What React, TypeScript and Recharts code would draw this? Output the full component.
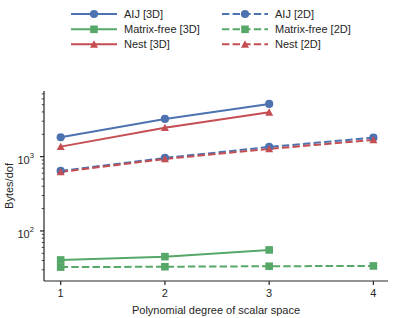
import React from 'react';
import { LineChart, Line, XAxis, YAxis } from 'recharts';

const degrees = [1, 2, 3, 4];
const aij3d = [1824, 3216, 5120];
const matrixFree3d = [40.7, 45.1, 55.5];
const nest3d = [1364, 2456, 3957];
const aij2d = [642, 961, 1350, 1803];
const matrixFree2d = [32.6, 33.0, 33.5, 33.8];
const nest2d = [622, 931, 1270, 1680];

const yMajorTicks = [100, 1000];
const yMinorTicks = [30, 40, 50, 60, 70, 80, 90, 200, 300, 400, 500, 600, 700, 800, 900, 2000, 3000, 4000, 5000, 6000, 7000];
const xTicks = [1, 2, 3, 4];

const BLUE = '#4C72B0';
const GREEN = '#55A868';
const RED = '#C44E52';
const INK = '#262626';
const FONT = '"Liberation Sans", Arial, Helvetica, sans-serif';

type Marker = 'circle' | 'square' | 'triangle';

const series = [
  { name: 'AIJ [3D]', values: aij3d, color: BLUE, marker: 'circle' as Marker, dashed: false },
  { name: 'Matrix-free [3D]', values: matrixFree3d, color: GREEN, marker: 'square' as Marker, dashed: false },
  { name: 'Nest [3D]', values: nest3d, color: RED, marker: 'triangle' as Marker, dashed: false },
  { name: 'AIJ [2D]', values: aij2d, color: BLUE, marker: 'circle' as Marker, dashed: true },
  { name: 'Matrix-free [2D]', values: matrixFree2d, color: GREEN, marker: 'square' as Marker, dashed: true },
  { name: 'Nest [2D]', values: nest2d, color: RED, marker: 'triangle' as Marker, dashed: true },
];

const DASH = '7.4 3.2';

function markerShape(marker: Marker, cx: number, cy: number, color: string, key?: string) {
  if (marker === 'circle') return <circle key={key} cx={cx} cy={cy} r={4.1} fill={color} />;
  if (marker === 'square') return <rect key={key} x={cx - 3.8} y={cy - 3.8} width={7.6} height={7.6} fill={color} />;
  const s = 4.0;
  return <polygon key={key} points={`${cx},${cy - s} ${cx + s},${cy + s * 0.85} ${cx - s},${cy + s * 0.85}`} fill={color} />;
}

const makeDot = (marker: Marker, color: string) => (p: any) => {
  const k = `dot-${p.index}`;
  if (p.cx == null || p.cy == null || isNaN(p.cx) || isNaN(p.cy)) return <g key={k} />;
  return markerShape(marker, p.cx, p.cy, color, k);
};

const YTick = (props: any) => {
  const { x, y, payload } = props;
  const major = yMajorTicks.includes(payload.value);
  if (!major) {
    return <line x1={x} x2={x - 2.2} y1={y} y2={y} stroke={INK} strokeWidth={0.9} />;
  }
  const exp = Math.round(Math.log10(payload.value));
  return (
    <g>
      <line x1={x} x2={x - 4} y1={y} y2={y} stroke={INK} strokeWidth={1.2} />
      <text x={x - 10} y={y + 7} textAnchor="end" fontSize={11} fill={INK} fontFamily={FONT}>
        10
        <tspan fontSize={7.7} dy={-5.5}>{exp}</tspan>
      </text>
    </g>
  );
};

const Legend = () => {
  const cols = [71, 222];
  const rowY = [14, 29.3, 44.3];
  return (
    <svg width={398} height={60} style={{ position: 'absolute', left: 0, top: 0, pointerEvents: 'none' }}>
      {series.map((s, i) => {
        const col = cols[s.dashed ? 1 : 0];
        const y = rowY[i % 3];
        return (
          <g key={s.name}>
            <line x1={col} x2={col + 46} y1={y} y2={y} stroke={s.color} strokeWidth={2} strokeDasharray={s.dashed ? DASH : undefined} />
            {markerShape(s.marker, col + 23, y, s.color)}
            <text x={col + 53} y={y + 4} fontSize={11} fill={INK} fontFamily={FONT}>{s.name}</text>
          </g>
        );
      })}
    </svg>
  );
};

export default function App() {
  return (
    <div style={{ position: 'fixed', left: 0, top: 0, width: 398, height: 318, background: '#fff' }}>
      <LineChart width={398} height={318} margin={{ top: 91, right: 10, bottom: 1, left: 4 }}>
        <XAxis
          type="number"
          dataKey="x"
          domain={[0.84, 4.14]}
          ticks={xTicks}
          allowDataOverflow
          stroke={INK}
          strokeWidth={1.2}
          tickSize={4}
          tickMargin={4}
          height={36}
          tick={{ fill: INK, fontSize: 11, fontFamily: FONT }}
          label={{
            content: () => (
              <text x={216} y={314} textAnchor="middle" fontSize={11} fill={INK} fontFamily={FONT}>
                Polynomial degree of scalar space
              </text>
            ),
          }}
        />
        <YAxis
          type="number"
          scale="log"
          domain={[21.2, 7650]}
          allowDataOverflow
          ticks={[...yMinorTicks, ...yMajorTicks].sort((a, b) => a - b)}
          interval={0}
          width={40}
          stroke={INK}
          strokeWidth={1.2}
          tickLine={false}
          tickSize={0}
          tickMargin={0}
          tick={<YTick />}
          label={{
            content: () => (
              <text x={13} y={186} transform="rotate(-90, 13, 186)" textAnchor="middle" fontSize={11} fill={INK} fontFamily={FONT}>
                Bytes/dof
              </text>
            ),
          }}
        />
        {series.map((s) => (
          <Line
            key={s.name}
            data={s.values.map((v, i) => ({ x: degrees[i], y: v }))}
            dataKey="y"
            name={s.name}
            stroke={s.color}
            strokeWidth={2}
            strokeDasharray={s.dashed ? DASH : undefined}
            dot={makeDot(s.marker, s.color)}
            activeDot={false}
            isAnimationActive={false}
            type="linear"
          />
        ))}
      </LineChart>
      <Legend />
    </div>
  );
}
